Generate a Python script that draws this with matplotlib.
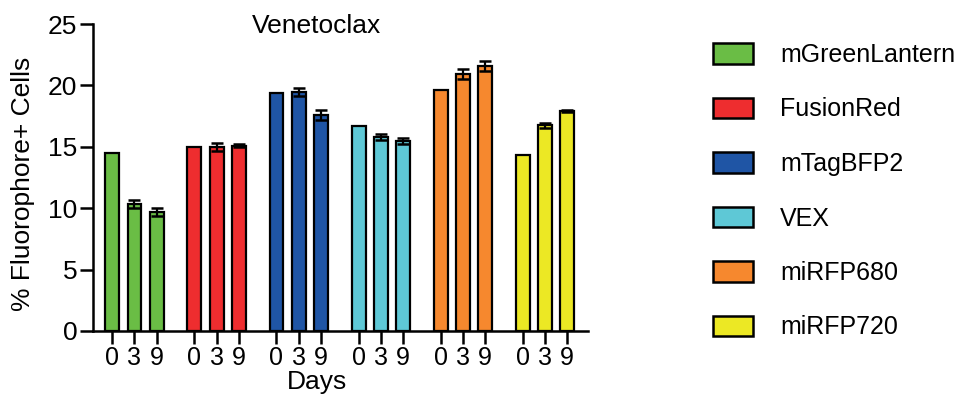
import matplotlib
matplotlib.use("Agg")
import matplotlib.pyplot as plt
from matplotlib.patches import Patch

plt.rcParams['font.family'] = ['Liberation Sans', 'DejaVu Sans']

fluorophores = ["mGreenLantern", "FusionRed", "mTagBFP2", "VEX", "miRFP680", "miRFP720"]
colors = ["#6abd45", "#ee2d2f", "#1f55a5", "#5ec8d6", "#f6882e", "#ece824"]
days = ["0", "3", "9"]
values = [
    [14.5, 10.35, 9.7],
    [15.0, 15.0, 15.1],
    [19.4, 19.45, 17.6],
    [16.7, 15.8, 15.45],
    [19.6, 20.9, 21.6],
    [14.3, 16.75, 17.9],
]
errors = [
    [0.0, 0.3, 0.3],
    [0.0, 0.35, 0.12],
    [0.0, 0.35, 0.4],
    [0.0, 0.22, 0.25],
    [0.0, 0.4, 0.4],
    [0.0, 0.22, 0.1],
]

fig = plt.figure(figsize=(9.62, 3.94), dpi=100)
ax = fig.add_axes([93/962, 63/394, 495/962, 307/394])

stride = 3.7
xt, xl = [], []
for g, (vals, errs, col) in enumerate(zip(values, errors, colors)):
    xs = [g*stride + i for i in range(3)]
    ax.bar(xs, vals, width=0.63, color=col, edgecolor="black", linewidth=1.6, zorder=2)
    ex = [x for x, e in zip(xs, errs) if e > 0]
    ev = [v for v, e in zip(vals, errs) if e > 0]
    ee = [e for e in errs if e > 0]
    ax.errorbar(ex, ev, yerr=ee, fmt="none", ecolor="black", elinewidth=1.6,
                capsize=4.3, capthick=1.8, zorder=3)
    xt += xs
    xl += days

ax.set_xlim(-0.87, 21.44)
ax.set_ylim(0, 25)
ax.set_yticks([0, 5, 10, 15, 20, 25])
ax.set_xticks(xt)
ax.set_xticklabels(xl)
for s in ["top", "right"]:
    ax.spines[s].set_visible(False)
for s in ["left", "bottom"]:
    ax.spines[s].set_linewidth(1.8)
ax.tick_params(axis="both", length=9.4, width=1.8, labelsize=18, pad=2)
ax.tick_params(axis="y", labelsize=19)
ax.tick_params(axis="x", pad=1.5)

fig.text(317/962, 1-33/394, "Venetoclax", ha="center", va="baseline", fontsize=19)
fig.text(317/962, 1-389/394, "Days", ha="center", va="baseline", fontsize=19)
fig.text(23/962, 1-183.5/394, "% Fluorophore+ Cells", ha="center", va="center",
         rotation=90, fontsize=19)

handles = [Patch(facecolor=c, edgecolor="black", linewidth=1.8, label=f)
           for f, c in zip(fluorophores, colors)]
fig.legend(handles=handles, loc="upper left", bbox_to_anchor=(713/962, 1-43/394),
           frameon=False, fontsize=18, handlelength=1.6, handleheight=0.88,
           handletextpad=1.08, labelspacing=1.22, borderpad=0, borderaxespad=0)

fig.savefig("out.png", dpi=100)
